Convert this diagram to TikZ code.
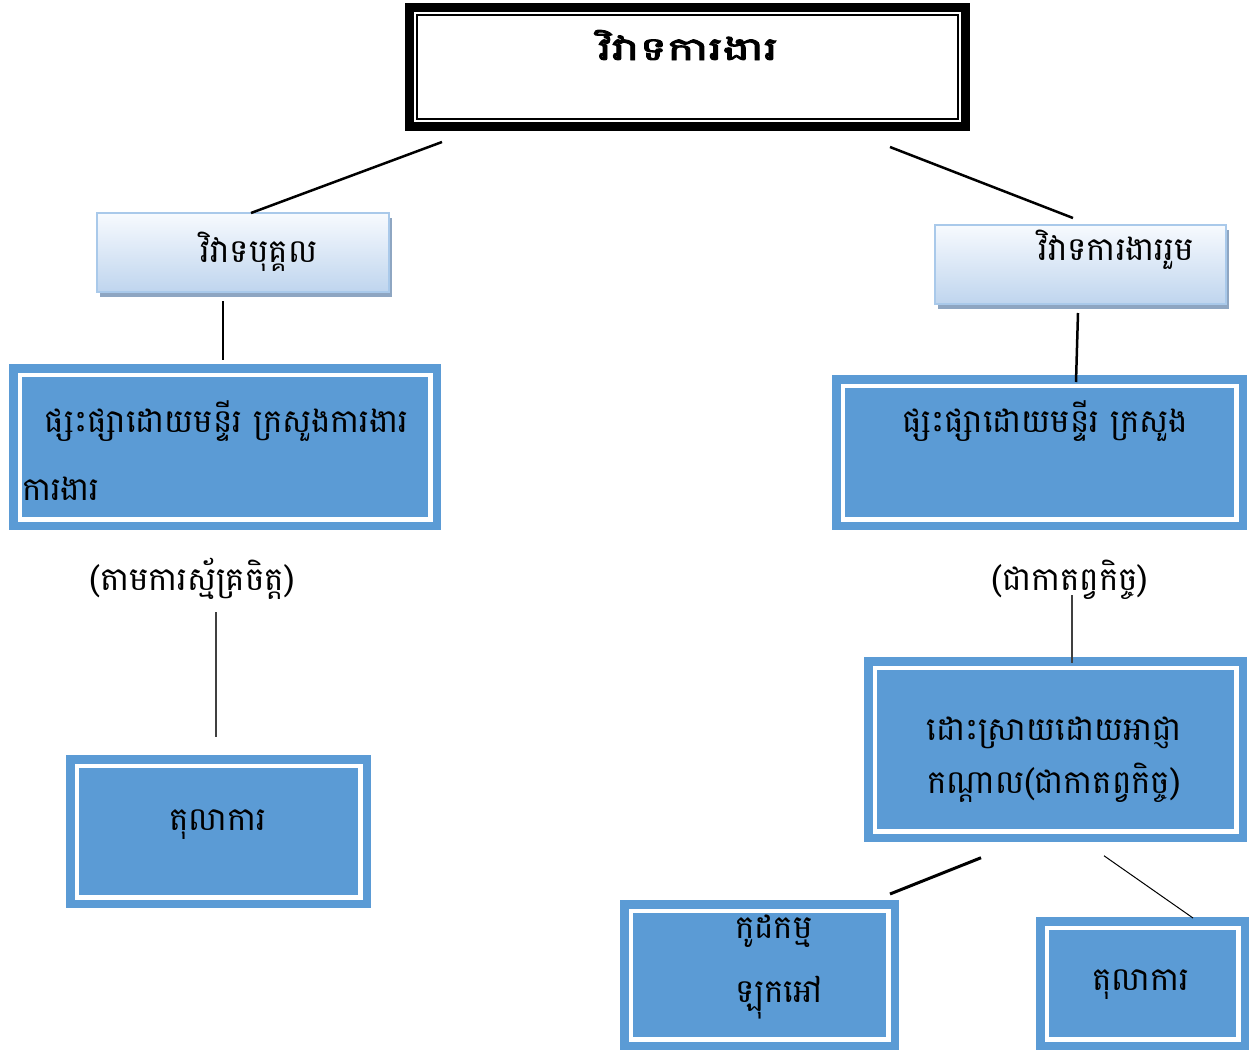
\documentclass[tikz,border=0pt]{standalone}
\usepackage{fontspec}
\newfontfamily\kh[Script=Khmer]{Battambang}
\newfontfamily\khb[Script=Khmer,FakeStretch=1.45,AutoFakeBold=3]{Battambang}
\usetikzlibrary{calc,shadows}
\definecolor{boxblue}{HTML}{5B9BD5}
\definecolor{gradtop}{HTML}{F7FAFE}
\definecolor{gradbot}{HTML}{BFD5EE}
\definecolor{gradline}{HTML}{A9C9EA}
\definecolor{shadowc}{HTML}{8EA6C2}
\definecolor{grayline}{HTML}{404040}
\tikzset{
  bluebox/.style={draw=boxblue, fill=boxblue, double=white, double distance=4.5pt,
    line width=8.5pt, inner sep=0pt, outer sep=0pt},
  gradbox/.style={draw=gradline, line width=2pt, top color=gradtop, bottom color=gradbot,
    inner sep=0pt, outer sep=0pt,
    drop shadow={shadow xshift=3pt, shadow yshift=-5pt, fill=shadowc, opacity=1}},
  titlebox/.style={draw=black, line width=9pt, fill=white, inner sep=0pt, outer sep=0pt},
  txt/.style={inner sep=0pt, outer sep=0pt, font=\kh\fontsize{32.5}{38}\selectfont},
  conn/.style={draw=black, line width=2.5pt},
  thinconn/.style={draw=grayline, line width=1.5pt},
}
\begin{document}
\begin{tikzpicture}[x=1pt,y=-1pt]
\useasboundingbox (0,0) rectangle (1251,1052);
% title
\node[titlebox, minimum width=556pt, minimum height=119pt] (T) at (687.5,67) {};
\draw[line width=2pt] ($(T.north west)+(7.5,7.5)$) rectangle ($(T.south east)+(-7.5,-7.5)$);
\node[txt, anchor=base, font=\khb\bfseries\fontsize{32}{38}\selectfont] (Tt) at (688,60) {វិវាទការងារ};
% second level
\node[gradbox, minimum width=292pt, minimum height=79pt] (G1) at (243,252.5) {};
\node[txt, anchor=base] (G1t) at (259,262) {វិវាទបុគ្គល};
\node[gradbox, minimum width=291pt, minimum height=79pt] (G2) at (1080.5,264.5) {};
\node[txt, anchor=base] (G2t) at (1116,260) {វិវាទការងាររួម};
% third level
\node[bluebox, minimum width=410.5pt, minimum height=144.5pt] (L1) at (225,447) {};
\node[txt, anchor=base west] (L1a) at (45,432) {ផ្សះផ្សាដោយមន្ទីរ ក្រសួងការងារ};
\node[txt, anchor=base west] (L1b) at (22,500) {ការងារ};
\node[bluebox, minimum width=393.5pt, minimum height=133.5pt] (R1) at (1039.5,452.5) {};
\node[txt, anchor=base] (R1t) at (1045,432) {ផ្សះផ្សាដោយមន្ទីរ ក្រសួង};
% labels
\node[txt, anchor=base] (LT) at (192,590) {(តាមការស្ម័គ្រចិត្ត)};
\node[txt, anchor=base] (RT) at (1070,590) {(ជាកាតព្វកិច្ច)};
% fourth level
\node[bluebox, minimum width=283.5pt, minimum height=131.5pt] (L2) at (218.5,831.5) {};
\node[txt, anchor=base] (L2t) at (218,830) {តុលាការ};
\node[bluebox, minimum width=361.5pt, minimum height=163.5pt] (R2) at (1055.5,749.5) {};
\node[txt, anchor=base] (R2a) at (1054,740) {ដោះស្រាយដោយអាជ្ញា};
\node[txt, anchor=base] (R2b) at (1054,793) {កណ្ដាល(ជាកាតព្វកិច្ច)};
% fifth level
\node[bluebox, minimum width=257.5pt, minimum height=128.5pt] (B1) at (759.5,975) {};
\node[txt, anchor=base west] (B1a) at (735,938) {កូដកម្ម};
\node[txt, anchor=base west] (B1b) at (735,1002) {ឡុកអៅ};
\node[bluebox, minimum width=191.5pt, minimum height=111.5pt] (B2) at (1142.5,983.5) {};
\node[txt, anchor=base] (B2t) at (1141,990) {តុលាការ};
% connectors
\draw[conn] ($(T.south)+(-245.5,15.5)$) -- ($(G1.north)+(8,0)$);
\draw[conn] ($(T.south)+(202.5,20.5)$) -- ($(G2.north)+(-7.5,-7)$);
\draw[conn] ($(G1.south)+(-20,9)$) -- ($(L1.north)+(-2,-15)$);
\draw[conn] ($(G2.south)+(-2.5,9)$) -- ($(R1.north)+(36.5,-3.75)$);
\draw[thinconn] ($(L2.north)+(-2.5,-153.75)$) -- ($(L2.north)+(-2.5,-28.75)$);
\draw[thinconn] ($(R2.north)+(16.5,-72.5)$) -- ($(R2.north)+(16.5,-4.5)$);
\draw[conn, line width=3pt] ($(R2.south)+(-74.5,26.5)$) -- ($(B1.north)+(130.5,-16.75)$);
\draw[draw=black, line width=1pt] ($(R2.south)+(48.5,24.5)$) -- ($(B2.north)+(50.5,-9.75)$);
\end{tikzpicture}
\end{document}
